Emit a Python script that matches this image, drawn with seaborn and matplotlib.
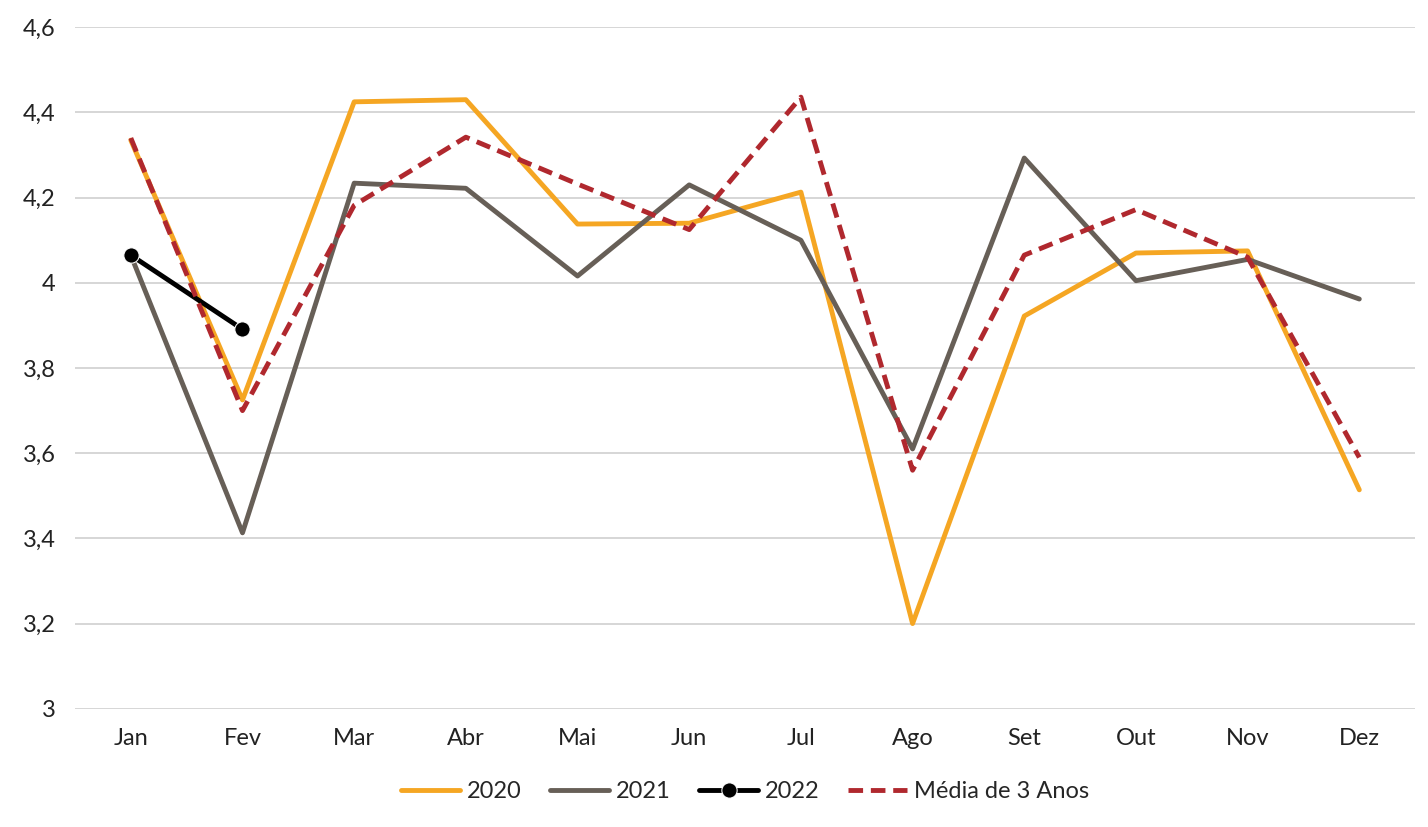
import matplotlib.pyplot as plt
import pandas as pd
import seaborn as sns


def main():
    months = ["Jan", "Fev", "Mar", "Abr", "Mai", "Jun", "Jul", "Ago", "Set", "Out", "Nov", "Dez"]
    series = {
        "2020": [4.335, 3.725, 4.425, 4.43, 4.138, 4.14, 4.213, 3.2, 3.922, 4.07, 4.075, 3.514],
        "2021": [4.065, 3.413, 4.234, 4.222, 4.016, 4.23, 4.10, 3.61, 4.293, 4.005, 4.055, 3.962],
        "2022": [4.065, 3.891] + [None] * 10,
        "Média de 3 Anos": [4.34, 3.70, 4.182, 4.342, 4.232, 4.125, 4.436, 3.56, 4.065, 4.172, 4.06, 3.59],
    }
    df = pd.DataFrame(series, index=months)

    sns.set_style("white")
    plt.rcParams["font.family"] = ["Lato", "DejaVu Sans"]

    fig, ax = plt.subplots(figsize=(14.28, 8.27), dpi=100)
    x = list(range(len(months)))

    # Series styles
    sns.lineplot(x=x, y=df["2020"].values, ax=ax, color="#f5a623", linewidth=3.5, label="2020")
    sns.lineplot(x=x, y=df["2021"].values, ax=ax, color="#675f57", linewidth=3.5, label="2021")
    sns.lineplot(x=x[:2], y=df["2022"].values[:2].astype(float), ax=ax, color="black",
                 linewidth=3.5, marker="o", markersize=11, label="2022")
    sns.lineplot(x=x, y=df["Média de 3 Anos"].values, ax=ax, color="#b0282e", linewidth=3.5,
                 linestyle=(0, (3, 1.6)), label="Média de 3 Anos")

    ax.set_xticks(x)
    ax.set_xticklabels(months)
    ax.set_xlim(-0.5, 11.5)
    ax.set_ylim(3, 4.6)
    ax.set_yticks([3, 3.2, 3.4, 3.6, 3.8, 4, 4.2, 4.4, 4.6])
    ax.set_yticklabels(["3", "3,2", "3,4", "3,6", "3,8", "4", "4,2", "4,4", "4,6"])
    ax.tick_params(labelsize=17, colors="#222222", length=0, pad=14)
    ax.grid(axis="y", color="#d0d0d0", linewidth=1.2)
    for s in ax.spines.values():
        s.set_visible(False)
    ax.legend(loc="upper center", bbox_to_anchor=(0.5, -0.075), ncol=4, frameon=False,
              fontsize=17, handlelength=2.5, handletextpad=0.3, columnspacing=1.2)

    fig.subplots_adjust(left=0.0525, right=0.991, top=0.967, bottom=0.143)
    fig.savefig("out.png", dpi=100)
    plt.close(fig)


if __name__ == "__main__":
    main()
